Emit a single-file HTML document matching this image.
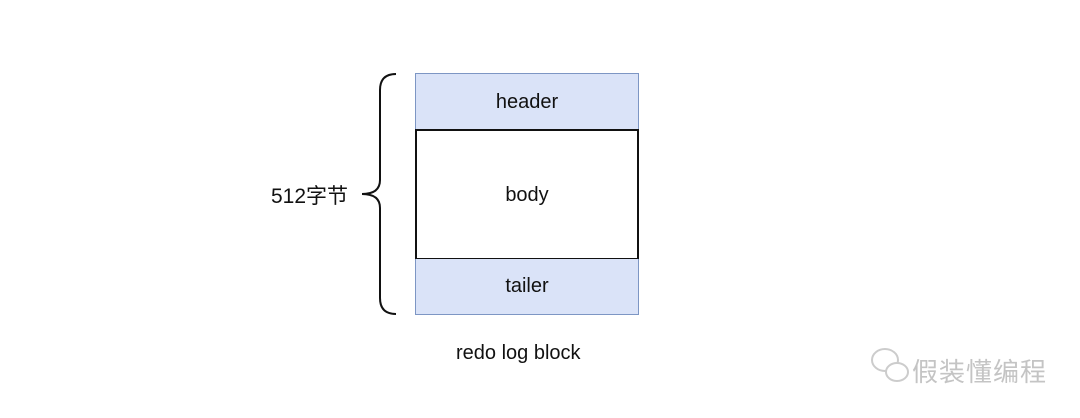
<!DOCTYPE html>
<html><head><meta charset="utf-8"><style>
html,body{margin:0;padding:0;background:#fff;}
body{width:1080px;height:418px;position:relative;overflow:hidden;font-family:"Liberation Sans","Noto Sans CJK SC",sans-serif;}
.b{position:absolute;left:415px;width:224px;box-sizing:border-box;display:flex;align-items:center;justify-content:center;font-size:20px;color:#111;}
.t{position:absolute;font-size:20px;color:#111;white-space:nowrap;}
</style></head><body>
<div class="b" style="top:73px;height:57px;background:#dae3f8;border:1px solid #7d96c4;border-bottom:none;">header</div>
<div class="b" style="top:129px;height:131px;background:#fff;border:2px solid #111;padding-top:2px;">body</div>
<div class="b" style="top:259px;height:56px;background:#dae3f8;border:1px solid #7d96c4;border-top:none;">tailer</div>
<svg style="position:absolute;left:0;top:0" width="1080" height="418">
<path d="M396 74 Q380 74 380 90 L380 180 Q380 194 362 194 Q380 194 380 208 L380 298 Q380 314 396 314" fill="none" stroke="#111" stroke-width="2"/>
<g fill="none" stroke="#ccc" stroke-width="2">
<ellipse cx="885" cy="360" rx="13" ry="11"/>
<ellipse cx="897" cy="372" rx="11" ry="9" fill="#fff"/>
</g>
</svg>
<div class="t" style="left:271px;top:180px;font-size:21px;">512字节</div>
<div class="t" style="left:456px;top:342px;">redo log block</div>
<div class="t" style="left:912px;top:352px;font-size:26px;color:#c4c4c4;letter-spacing:1px;">假装懂编程</div>
</body></html>
